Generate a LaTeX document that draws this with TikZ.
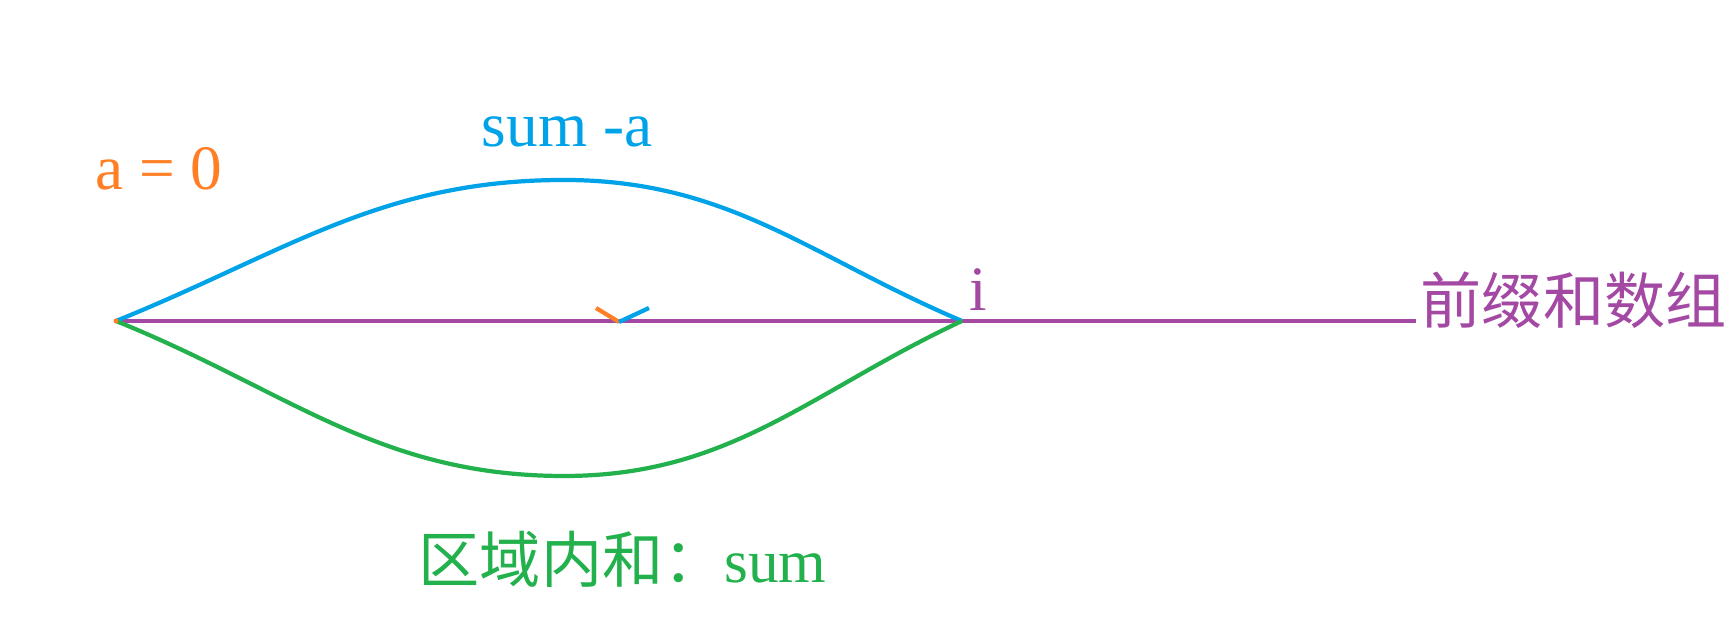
\documentclass[tikz,border=0pt]{standalone}
\usepackage{fontspec}
\setmainfont{Liberation Serif}
\newfontfamily\cjk{Noto Sans CJK SC}
\definecolor{paintblue}{RGB}{0,162,232}
\definecolor{paintgreen}{RGB}{34,177,76}
\definecolor{paintpurple}{RGB}{163,73,164}
\definecolor{paintorange}{RGB}{255,127,39}
\begin{document}
\begin{tikzpicture}[scale=1, every node/.style={font=\fontsize{18}{21}\selectfont}]
  \useasboundingbox (0,0) rectangle (17.34,6.30);
  \coordinate (start) at (1.16,3.09);
  \coordinate (iend) at (9.62,3.09);
  \coordinate (tail) at (14.16,3.09);
  % prefix sum array
  \draw[line width=1.2pt, paintpurple] (start) -- (iend) -- (tail);
  \node[anchor=west, inner sep=0pt, paintpurple, font=\fontsize{17.4}{21}\selectfont] (arr) at (14.20,3.30) {\cjk 前缀和数组};
  \node[anchor=base, paintpurple] (ilbl) at (9.78,3.19) {i};
  % sum -a on top
  \draw[line width=1.2pt, paintblue] (start) to[out=22, in=180] (5.64,4.50) to[out=0, in=157] (iend);
  \node[anchor=base, paintblue] (toplbl) at (5.67,4.83) {sum -a};
  % range sum below
  \draw[line width=1.2pt, paintgreen] (start) to[out=-22, in=180] (5.64,1.54) to[out=0, in=-155] (iend);
  \node[anchor=base west, inner sep=0pt, paintgreen, font=\fontsize{17.4}{21}\selectfont] (sumlbl) at (4.18,0.47) {\cjk 区域内和：\rmfamily sum};
  % a = 0
  \fill[paintorange] (start) circle (0.025);
  \node[anchor=base, paintorange] (albl) at (1.59,4.40) {a = 0};
  % small tick on the array
  \coordinate (tick) at (6.19,3.08);
  \draw[line width=1.2pt, paintorange] (5.96,3.22) -- (tick);
  \draw[line width=1.2pt, paintblue] (tick) -- (6.49,3.22);
\end{tikzpicture}
\end{document}
